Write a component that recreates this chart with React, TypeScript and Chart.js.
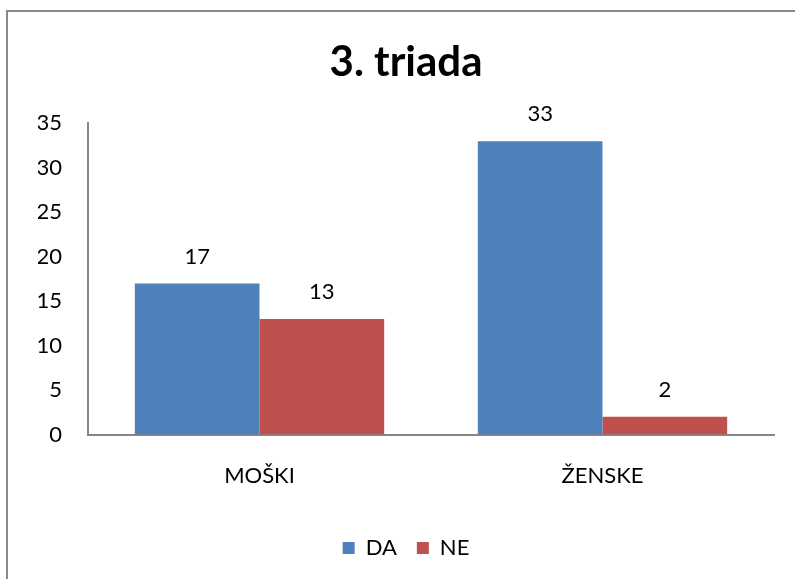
import React, { useEffect, useRef } from "react";
import { Chart, registerables } from "chart.js";

Chart.register(...registerables);

const categories = ["MOŠKI", "ŽENSKE"];
const daValues = [17, 33];
const neValues = [13, 2];
const seriesNames = ["DA", "NE"];
const titleText = "3. triada";

const FONT = "Lato, 'Open Sans', sans-serif";

const valueLabels = {
  id: "valueLabels",
  afterDatasetsDraw(chart: any) {
    const { ctx } = chart;
    ctx.save();
    ctx.font = `22px ${FONT}`;
    ctx.fillStyle = "#000";
    ctx.textAlign = "center";
    ctx.textBaseline = "middle";
    chart.data.datasets.forEach((ds: any, i: number) => {
      const meta = chart.getDatasetMeta(i);
      meta.data.forEach((bar: any, j: number) => {
        ctx.fillText(String(ds.data[j]), bar.x, bar.y - 27);
      });
    });
    ctx.restore();
  },
};

export default function App() {
  const ref = useRef<HTMLCanvasElement>(null);
  useEffect(() => {
    if (!ref.current) return;
    const chart = new Chart(ref.current, {
      type: "bar",
      data: {
        labels: categories,
        datasets: [
          { label: seriesNames[0], data: daValues, backgroundColor: "#4F81BD" },
          { label: seriesNames[1], data: neValues, backgroundColor: "#C0504D" },
        ],
      },
      options: {
        responsive: false,
        animation: false,
        layout: { padding: { left: 30, right: 30, top: 0, bottom: 10 } },
        datasets: { bar: { categoryPercentage: 0.727, barPercentage: 1 } },
        scales: {
          x: {
            grid: { display: false, drawTicks: false },
            border: { display: true, color: "#868686", width: 2 },
            ticks: { color: "#000", font: { family: FONT, size: 22 }, padding: 28 },
          },
          y: {
            min: 0,
            max: 35,
            grid: { display: false, drawTicks: false },
            border: { display: true, color: "#868686", width: 2 },
            ticks: { stepSize: 5, color: "#000", font: { family: FONT, size: 22 }, padding: 26 },
            afterFit: (scale: any) => {
              scale.width = 50;
            },
          },
        },
        plugins: {
          title: {
            display: true,
            text: titleText,
            color: "#000",
            font: { family: FONT, size: 42, weight: "bold" },
            padding: { top: 25, bottom: 36 },
          },
          legend: {
            position: "bottom",
            labels: {
              boxWidth: 12,
              boxHeight: 12,
              padding: 20,
              color: "#000",
              font: { family: FONT, size: 22 },
            },
          },
          tooltip: { enabled: false },
        },
      },
      plugins: [valueLabels],
    });
    return () => chart.destroy();
  }, []);

  return (
    <div
      style={{
        position: "absolute",
        left: 6,
        top: 10,
        width: 789,
        height: 569,
        borderLeft: "2px solid #898989",
        borderTop: "2px solid #898989",
        overflow: "hidden",
        background: "#fff",
      }}
    >
      <canvas ref={ref} width={796} height={567} style={{ display: "block" }} />
    </div>
  );
}
